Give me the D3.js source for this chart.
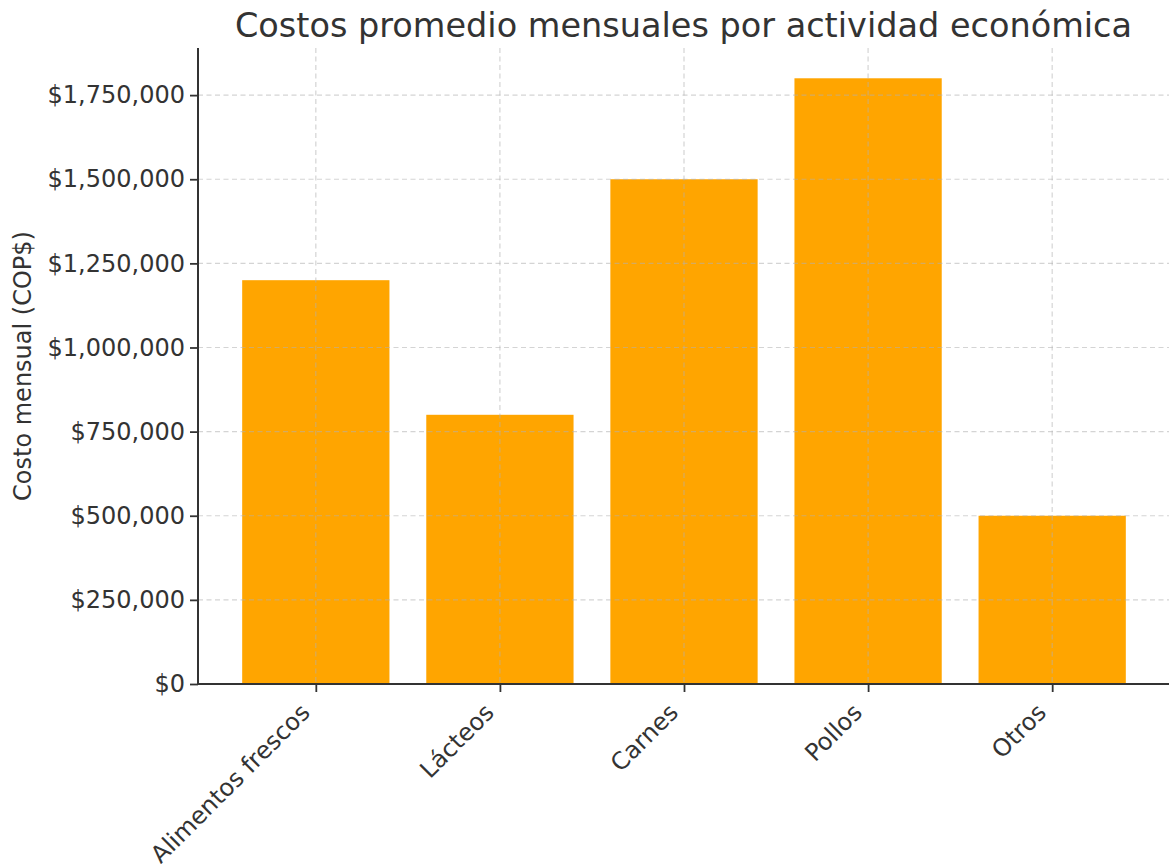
<!DOCTYPE html>
<html>
<head>
<meta charset="utf-8">
<script src="https://cdn.jsdelivr.net/npm/d3@7"></script>
<style>
  body { margin: 0; background: #fff; }
  svg { font-family: "DejaVu Sans", sans-serif; }
</style>
</head>
<body>
<svg id="chart" width="1169" height="866"></svg>
<script>
// data
var categories = ['Alimentos frescos', 'Lácteos', 'Carnes', 'Pollos', 'Otros'];
var costs = [1200000, 800000, 1500000, 1800000, 500000];
var yTicks = [0, 250000, 500000, 750000, 1000000, 1250000, 1500000, 1750000];

var margin = { left: 198, right: -1, top: 48, bottom: 182 };
var width = 1169, height = 866;
var textColor = '#333333';

var svg = d3.select('#chart');

// index scale like matplotlib: bars at 0..n-1, width 0.8, 5% margins
var n = categories.length;
var pad = 0.4 + (n - 1 + 0.8) * 0.05;
var x = d3.scaleLinear()
    .domain([-pad, n - 1 + pad])
    .range([margin.left, width - margin.right]);

var yMax = d3.max(costs) * 1.05;
var y = d3.scaleLinear()
    .domain([0, yMax])
    .range([height - margin.bottom, margin.top]);

var money = function(v){ return '$' + d3.format(',')(v); };

// bars
svg.append('g').selectAll('rect')
    .data(costs)
    .enter()
    .append('rect')
    .attr('x', function(d, i){ return x(i - 0.4); })
    .attr('y', function(d){ return y(d); })
    .attr('width', function(d, i){ return x(i + 0.4) - x(i - 0.4); })
    .attr('height', function(d){ return y(0) - y(d); })
    .style('fill', '#FFA500');

// grid on top of bars
var grid = svg.append('g')
    .style('stroke', '#b0b0b0')
    .style('stroke-opacity', 0.55)
    .style('stroke-width', 1.2)
    .style('stroke-dasharray', '5,3.5');

grid.selectAll('line.h')
    .data(yTicks)
    .enter()
    .append('line')
    .attr('class', 'h')
    .attr('x1', margin.left)
    .attr('x2', width)
    .attr('y1', function(d){ return y(d); })
    .attr('y2', function(d){ return y(d); });

grid.selectAll('line.v')
    .data(categories)
    .enter()
    .append('line')
    .attr('class', 'v')
    .attr('x1', function(d, i){ return x(i); })
    .attr('x2', function(d, i){ return x(i); })
    .attr('y1', margin.top)
    .attr('y2', height - margin.bottom);

// y axis
var yAxis = d3.axisLeft(y)
    .tickValues(yTicks)
    .tickFormat(money)
    .tickSize(8)
    .tickPadding(5);

var yg = svg.append('g')
    .attr('transform', 'translate(' + margin.left + ',0)')
    .call(yAxis);
yg.select('.domain').remove();
yg.selectAll('.tick line').style('stroke', textColor).style('stroke-width', 1.8);
yg.selectAll('.tick text')
    .style('font-size', '24px')
    .style('fill', textColor)
    .style('font-family', '"DejaVu Sans", sans-serif');

// x axis
var xAxis = d3.axisBottom(x)
    .tickValues(d3.range(n))
    .tickFormat(function(d){ return categories[d]; })
    .tickSize(8)
    .tickPadding(6);

var xg = svg.append('g')
    .attr('transform', 'translate(0,' + (height - margin.bottom) + ')')
    .call(xAxis);
xg.select('.domain').remove();
xg.selectAll('.tick line').style('stroke', textColor).style('stroke-width', 1.8);
xg.selectAll('.tick text')
    .style('font-size', '24px')
    .style('fill', textColor)
    .style('font-family', '"DejaVu Sans", sans-serif')
    .style('text-anchor', 'end')
    .attr('dy', null)
    .attr('y', 0)
    .attr('transform', 'translate(-5,30) rotate(-45)');

// spines
svg.append('line')
    .attr('x1', margin.left).attr('x2', margin.left)
    .attr('y1', margin.top).attr('y2', y(0))
    .style('stroke', textColor).style('stroke-width', 2);
svg.append('line')
    .attr('x1', margin.left - 1).attr('x2', width)
    .attr('y1', y(0)).attr('y2', y(0))
    .style('stroke', textColor).style('stroke-width', 2);

// y label
svg.append('text')
    .attr('transform', 'translate(31,' + ((margin.top + y(0)) / 2) + ') rotate(-90)')
    .attr('text-anchor', 'middle')
    .style('font-size', '24px')
    .style('fill', textColor)
    .text('Costo mensual (COP$)');

// title
svg.append('text')
    .attr('x', (margin.left + width) / 2)
    .attr('y', 37)
    .attr('text-anchor', 'middle')
    .style('font-size', '33.5px')
    .style('fill', textColor)
    .text('Costos promedio mensuales por actividad económica');
</script>
</body>
</html>
